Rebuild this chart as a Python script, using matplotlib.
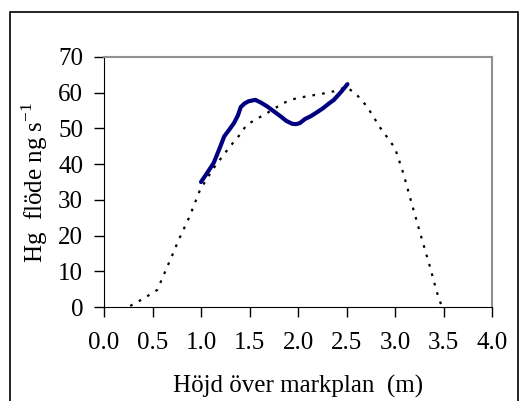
import matplotlib.pyplot as plt
from matplotlib.patches import Rectangle

plt.rcParams['font.family'] = ['Liberation Serif', 'DejaVu Serif']

# measured flux (solid)
meas_h = [1.0, 1.065, 1.13, 1.19, 1.24, 1.29, 1.34, 1.38, 1.41, 1.45, 1.49, 1.56, 1.62, 1.68,
          1.75, 1.82, 1.88, 1.94, 1.98, 2.02, 2.07, 2.13, 2.2, 2.26, 2.32, 2.37, 2.44, 2.51]
meas_q = [35.0, 37.6, 40.3, 44.3, 47.8, 49.6, 51.5, 53.6, 56.0, 57.0, 57.6, 58.0, 57.2, 56.2,
          54.8, 53.4, 52.1, 51.3, 51.2, 51.5, 52.6, 53.4, 54.6, 55.7, 57.0, 58.0, 60.1, 62.4]

# fitted profile (dotted)
fit_h = [0.27, 0.41, 0.55, 0.60, 0.71, 0.77, 0.885, 0.99, 1.13, 1.30, 1.40, 1.47, 1.68, 1.85,
         1.95, 2.09, 2.23, 2.37, 2.50, 2.60, 2.71, 2.85, 3.0, 3.085, 3.2, 3.32, 3.36, 3.43, 3.48]
fit_q = [0.3, 2.4, 4.8, 8.0, 14.9, 18.8, 25.5, 32.8, 38.9, 45.0, 48.2, 51.0, 54.3, 57.1,
         58.2, 59.0, 59.6, 60.4, 61.6, 59.6, 56.2, 50.1, 44.5, 37.5, 26.3, 15.0, 11.3, 4.3, 0.3]

xticks = [0.0, 0.5, 1.0, 1.5, 2.0, 2.5, 3.0, 3.5, 4.0]
yticks = [0, 10, 20, 30, 40, 50, 60, 70]

fig = plt.figure(figsize=(5.19, 4.01), dpi=100)
ax = fig.add_axes([104/519, 94/401, 388/519, 250/401])

ax.plot(fit_h, fit_q, color='black', lw=1.6, ls=(0, (1.2, 3.2)))
ax.plot(meas_h, meas_q, color='#000080', lw=3, solid_capstyle='round',
        solid_joinstyle='round')

ax.set_xlim(0, 4)
ax.set_ylim(0, 70)
ax.set_xticks(xticks)
ax.set_xticklabels([f'{v:.1f}' for v in xticks])
ax.set_yticks(yticks)
ax.tick_params(direction='out', length=7, width=1, labelsize=18, color='black')
ax.tick_params(axis='x', pad=11)
ax.tick_params(axis='y', pad=8)

for side in ['top', 'right']:
    ax.spines[side].set_color('#909090')
    ax.spines[side].set_linewidth(1.5)
for side in ['left', 'bottom']:
    ax.spines[side].set_color('black')

ax.set_xlabel('Höjd över markplan  (m)', fontsize=18, labelpad=15)
ax.set_ylabel('Hg  flöde ng s$^{\\mathregular{-1}}$', fontsize=18, labelpad=6)

# outer frame
fig.patches.append(Rectangle((10/519, -0.1), 508/519, 1.1 - 12/401,
                             transform=fig.transFigure, fill=False,
                             edgecolor='black', lw=1.2))

fig.savefig('out.png', dpi=100)
